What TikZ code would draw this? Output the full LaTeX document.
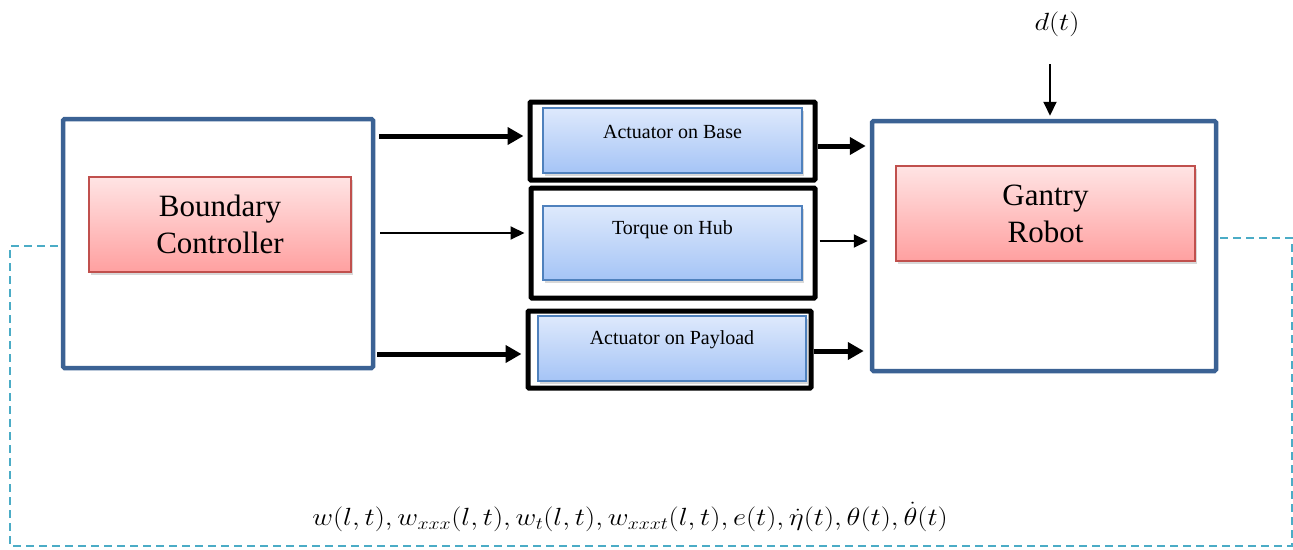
\documentclass[tikz,border=0pt]{standalone}
\usepackage{fontspec}
\usepackage{graphicx}
\setmainfont{Liberation Serif}
\usetikzlibrary{arrows.meta,calc,shadows}
\definecolor{frameblue}{RGB}{59,98,148}
\definecolor{redtop}{RGB}{255,228,228}
\definecolor{redbot}{RGB}{255,160,160}
\definecolor{redline}{RGB}{192,80,77}
\definecolor{bluetop}{RGB}{222,233,252}
\definecolor{bluebot}{RGB}{165,196,246}
\definecolor{blueline}{RGB}{79,129,189}
\definecolor{fbcol}{RGB}{75,172,198}
\newcommand{\widemath}[1]{\scalebox{1.15}[1]{$#1$}}
\tikzset{
  outerblock/.style={draw=frameblue,line width=4.5pt,rounded corners=1.5pt,fill=white},
  redblock/.style={draw=redline,line width=1.2pt,top color=redtop,bottom color=redbot,
    drop shadow={opacity=0.3,shadow xshift=1.5pt,shadow yshift=-3pt},
    font=\fontsize{31}{37}\selectfont,align=center},
  holder/.style={draw=black,line width=5pt,rounded corners=1pt,fill=white},
  blueblock/.style={draw=blueline,line width=1.2pt,top color=bluetop,bottom color=bluebot,
    drop shadow={opacity=0.3,shadow xshift=1.5pt,shadow yshift=-3pt}},
  blocklabel/.style={font=\fontsize{20}{24}\selectfont,inner sep=0pt},
  mathlabel/.style={font=\fontsize{25}{30}\selectfont,inner sep=1pt},
  thickarr/.style={line width=5pt,-{Triangle[length=16pt,width=17pt]}},
  thinarr/.style={line width=2pt,-{Triangle[length=14pt,width=13pt]}},
  fb/.style={draw=fbcol,line width=1.6pt,dash pattern=on 8pt off 5pt},
}
\begin{document}
\begin{tikzpicture}[x=1pt,y=-1pt]
\fill[white] (0,0) rectangle (1293,549);
\useasboundingbox (0,0) rectangle (1293,549);

% controller and plant
\node[outerblock,minimum width=310pt,minimum height=249pt] (bc) at (218,243.5) {};
\node[redblock,minimum width=262pt,minimum height=95pt] (bci) at (220,224.5) {Boundary\\Controller};
\node[outerblock,minimum width=344pt,minimum height=250pt] (gr) at (1044,246) {};
\node[redblock,minimum width=299pt,minimum height=95pt] (gri) at (1045.5,213.5) {Gantry\\Robot};

% actuator blocks
\node[holder,minimum width=285pt,minimum height=78pt] (base) at (672.5,141) {};
\node[blueblock,minimum width=259pt,minimum height=65pt] (basei) at (672.5,140.5) {};
\node[blocklabel] at ($(basei.north)+(0,25)$) {Actuator on Base};

\node[holder,minimum width=284pt,minimum height=110pt] (hub) at (673,243) {};
\node[blueblock,minimum width=259pt,minimum height=74pt] (hubi) at (672.5,243) {};
\node[blocklabel] at ($(hubi.north)+(0,24)$) {Torque on Hub};

\node[holder,minimum width=283pt,minimum height=77pt] (pay) at (669.5,349.5) {};
\node[blueblock,minimum width=268pt,minimum height=65pt] (payi) at (672,348.5) {};
\node[blocklabel] at ($(payi.north)+(0,24)$) {Actuator on Payload};

% controller -> actuators
\coordinate (in1) at ($(base.west)+(-4,-5)$);
\coordinate (in2) at ($(hub.west)+(-4,-10)$);
\coordinate (in3) at ($(pay.west)+(-4,4.5)$);
\draw[thickarr] ([xshift=4pt]bc.east |- in1) -- (in1);
\draw[thinarr]  ([xshift=5pt]bc.east |- in2) -- (in2);
\draw[thickarr] ([xshift=2pt]bc.east |- in3) -- (in3);

% actuators -> plant
\coordinate (out1) at ($(base.east)+(0,5)$);
\coordinate (out2) at ($(hub.east)+(2,-2)$);
\coordinate (out3) at ($(pay.east)+(0,1.5)$);
\draw[thickarr] (out1) -- ([xshift=-4pt]gr.west |- out1);
\draw[thinarr]  (out2) -- ([xshift=-2pt]gr.west |- out2);
\draw[thickarr] (out3) -- ([xshift=-6pt]gr.west |- out3);

% disturbance
\node[mathlabel] (dist) at (1057,24) {\widemath{d(t)}};
\coordinate (dtop) at (1050,64);
\draw[thinarr] (dtop) -- ([yshift=3pt]gr.north -| dtop);

% measured feedback
\coordinate (fbR) at (1292,546);
\coordinate (fbL) at (10,546);
\draw[fb] ([yshift=8pt,xshift=2pt]gr.east) -| (fbR) -- (fbL) |- ([xshift=-3pt,yshift=-2.5pt]bc.west);
\node[mathlabel] (meas) at (630,517)
  {\widemath{w(l,t),w_{xxx}(l,t),w_t(l,t),w_{xxxt}(l,t),e(t),\dot\eta(t),\theta(t),\dot\theta(t)}};
\end{tikzpicture}
\end{document}
